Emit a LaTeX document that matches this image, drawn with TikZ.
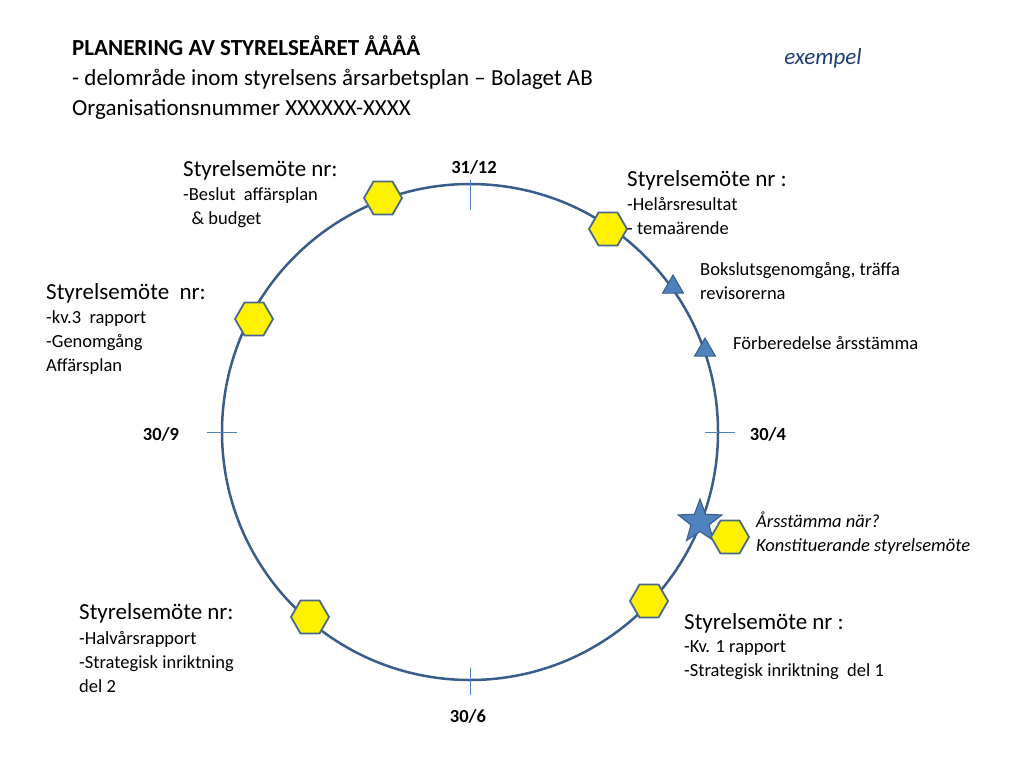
\documentclass[tikz,border=0pt]{standalone}
\usepackage{fontspec}
\setmainfont{Carlito}
\usetikzlibrary{shapes.geometric}
\definecolor{ring}{HTML}{385D8A}
\definecolor{hexb}{HTML}{4A6A8A}
\definecolor{fillb}{HTML}{4F81BD}
\definecolor{exc}{HTML}{1F3D7A}
\begin{document}
\begin{tikzpicture}[x=1pt,y=-1pt,
  hex/.style={regular polygon,regular polygon sides=6,minimum size=38pt,inner sep=0pt,fill=yellow,draw=hexb,line width=1.8pt},
  tri/.style={regular polygon,regular polygon sides=3,minimum size=24pt,inner sep=0pt,fill=fillb,draw=ring,line width=1pt},
  big/.style={font=\fontsize{23}{27}\selectfont,anchor=north west,inner sep=0pt},
  sm/.style={font=\fontsize{18.5}{24}\selectfont,anchor=north west,inner sep=0pt,align=left},
  date/.style={font=\fontsize{18.5}{21}\selectfont\bfseries,inner sep=0pt},
  tick/.style={draw=fillb,line width=0.8pt}]
\useasboundingbox (0,0) rectangle (1024,768);
\node[anchor=north west,inner sep=0pt,align=left,font=\fontsize{23}{30}\selectfont] (title) at (72,36)
 {\textbf{PLANERING AV STYRELSEÅRET ÅÅÅÅ}\\- delområde inom styrelsens årsarbetsplan – Bolaget AB\\Organisationsnummer XXXXXX-XXXX};
\node[font=\fontsize{23}{27}\selectfont\itshape,text=exc] (ex) at (823,58) {exempel};
\coordinate (c) at (470,432);
\draw[ring,line width=2.5pt] (c) circle[radius=248];
\draw[tick] (470,180) -- (470,210);
\draw[tick] (470,668) -- (470,695);
\draw[tick] (207,432) -- (237,432);
\draw[tick] (705,432) -- (735,432);
\node[date] (d1) at (474,167) {31/12};
\node[date] (d2) at (768,434) {30/4};
\node[date] (d3) at (161,434) {30/9};
\node[date] (d4) at (468,716) {30/6};
\node[hex] (h1) at (383,198) {};
\node[hex] (h2) at (608,229) {};
\node[hex] (h3) at (254,319) {};
\node[hex] (h4) at (310,617) {};
\node[hex] (h5) at (649,601) {};
\node[tri] (t1) at (673,287) {};
\node[tri] (t2) at (705,350) {};
\node[star,star points=5,star point ratio=2.4,minimum size=46pt,inner sep=0pt,fill=fillb,draw=ring,line width=1pt] (st) at (700,522) {};
\node[hex] (h6) at (730,537) {};
\node[big] (l1) at (183,160) {Styrelsemöte nr:};
\node[sm] (s1) at (183,187) {-Beslut\ \ affärsplan\\\ \ \& budget};
\node[big] (l2) at (627,170) {Styrelsemöte nr :};
\node[sm] (s2) at (627,197) {-Helårsresultat\\- temaärende};
\node[sm] (b1) at (700,262) {Bokslutsgenomgång, träffa\\revisorerna};
\node[sm] (b2) at (733,336) {Förberedelse årsstämma};
\node[big] (l3) at (46,283) {Styrelsemöte\ \ nr:};
\node[sm] (s3) at (46,310) {-kv.3\ \ rapport\\-Genomgång\\Affärsplan};
\node[sm,font=\fontsize{18.5}{24}\selectfont\itshape] (a1) at (756,512) {Årsstämma när?\\Konstituerande styrelsemöte};
\node[big] (l4) at (79,603) {Styrelsemöte nr:};
\node[sm] (s4) at (79,631) {-Halvårsrapport\\-Strategisk inriktning\\del 2};
\node[big] (l5) at (684,613) {Styrelsemöte nr :};
\node[sm] (s5) at (684,640) {-Kv. 1 rapport\\-Strategisk inriktning\ \ del 1};
\end{tikzpicture}
\end{document}
